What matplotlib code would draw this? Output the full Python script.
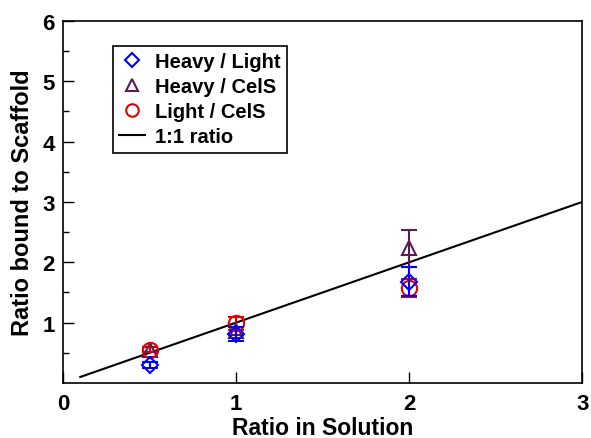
import matplotlib
matplotlib.use("Agg")
import matplotlib.pyplot as plt
from matplotlib.ticker import FixedLocator
from matplotlib.lines import Line2D

plt.rcParams['font.family'] = ['Liberation Sans', 'DejaVu Sans']
plt.rcParams['font.weight'] = 'bold'

x_vals = [0.5, 1.0, 2.0]
hl_y = [0.30, 0.81, 1.68]
hl_err = [0.05, 0.12, 0.24]
hc_y = [0.55, 0.86, 2.23]
hc_err = [0.04, 0.06, 0.30]
lc_y = [0.55, 0.99, 1.57]
lc_err = [0.04, 0.11, 0.15]
line_x = [0.1, 3.0]
line_y = [0.1, 3.0]

fig = plt.figure(figsize=(5.91, 4.39), dpi=100)
ax = fig.add_axes([0.1066, 0.1253, 0.8784, 0.8247])

ax.plot(line_x, line_y, color='black', lw=1.5, zorder=1)
ax.errorbar(x_vals, hl_y, yerr=hl_err, fmt='D', mfc='none', mec='#0000ff', ecolor='#0000ff',
            ms=8, mew=1.5, capsize=6, elinewidth=1.5, capthick=1.5, zorder=3)
ax.errorbar(x_vals, hc_y, yerr=hc_err, fmt='^', mfc='none', mec='#5a1a5a', ecolor='#5a1a5a',
            ms=10, mew=1.5, capsize=6, elinewidth=1.5, capthick=1.5, zorder=2)
ax.errorbar(x_vals, lc_y, yerr=lc_err, fmt='o', mfc='none', mec='#e00000', ecolor='#e00000',
            ms=11, mew=1.5, capsize=6, elinewidth=1.5, capthick=1.5, zorder=2)

ax.set_xlim(0, 3)
ax.set_ylim(0, 6)
ax.xaxis.set_major_locator(FixedLocator([0, 1, 2, 3]))
ax.yaxis.set_major_locator(FixedLocator([1, 2, 3, 4, 5, 6]))
ax.yaxis.set_minor_locator(FixedLocator([0.5, 1.5, 2.5, 3.5, 4.5, 5.5]))
ax.tick_params(direction='in', which='major', length=8, width=1, labelsize=16, pad=6)
ax.tick_params(direction='in', which='minor', length=4, width=1)
ax.tick_params(axis='x', which='major', pad=7)
for lab in ax.get_xticklabels() + ax.get_yticklabels():
    lab.set_fontweight('bold')
for s in ax.spines.values():
    s.set_linewidth(1.2)

ax.set_xlabel('Ratio in Solution', fontsize=16.5, fontweight='bold', labelpad=2)
ax.set_ylabel('Ratio bound to Scaffold', fontsize=17, fontweight='bold', labelpad=6)

handles = [
    Line2D([], [], marker='D', ls='none', mfc='none', mec='#0000ff', ms=7, mew=1.5),
    Line2D([], [], marker='^', ls='none', mfc='none', mec='#5a1a5a', ms=8.5, mew=1.5),
    Line2D([], [], marker='o', ls='none', mfc='none', mec='#e00000', ms=9, mew=1.5),
    Line2D([], [], color='black', lw=1.5),
]
labels = ['Heavy / Light', 'Heavy / CelS', 'Light / CelS', '1:1 ratio']
leg = ax.legend(handles, labels, loc='upper left', bbox_to_anchor=(0.096, 0.93),
                borderaxespad=0, frameon=True, fancybox=False, edgecolor='black', framealpha=1,
                prop={'size': 14.5, 'weight': 'bold'}, handlelength=1.3, handletextpad=0.5,
                labelspacing=0.3, borderpad=0.3)
leg.get_frame().set_linewidth(1.2)

fig.savefig('out.png', dpi=100)
